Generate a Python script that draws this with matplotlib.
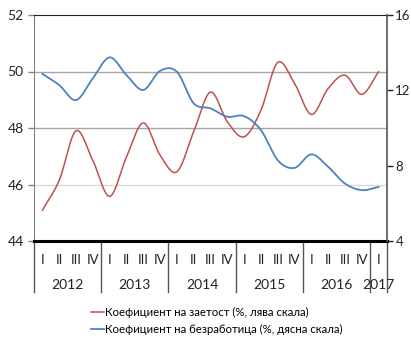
import numpy as np
import matplotlib.pyplot as plt

plt.rcParams["font.family"] = ["Lato", "DejaVu Sans"]

years = ["2012", "2013", "2014", "2015", "2016", "2017"]
quarters = ["I", "II", "III", "IV"]
employment = [45.09, 46.15, 47.90, 46.85, 45.58, 46.97, 48.18, 47.04, 46.45, 47.87,
              49.27, 48.22, 47.69, 48.63, 50.32, 49.58, 48.48, 49.40, 49.87, 49.19, 49.99]
unemployment = [12.87, 12.28, 11.48, 12.64, 13.75, 12.81, 12.02, 13.03, 12.99, 11.31,
                11.04, 10.60, 10.63, 9.89, 8.29, 7.88, 8.60, 7.94, 7.05, 6.70, 6.87]
red = "#C0504D"
blue = "#4F81BD"


def smooth(y, steps=20):
    # Catmull-Rom curve through the points, like Excel's smoothed lines
    y = np.asarray(y, float)
    x = np.arange(len(y), dtype=float)
    p = np.concatenate([[2 * y[0] - y[1]], y, [2 * y[-1] - y[-2]]])
    xs, ys = [], []
    t = np.linspace(0, 1, steps, endpoint=False)
    for i in range(len(y) - 1):
        p0, p1, p2, p3 = p[i], p[i + 1], p[i + 2], p[i + 3]
        seg = 0.5 * (2 * p1 + (-p0 + p2) * t + (2 * p0 - 5 * p1 + 4 * p2 - p3) * t ** 2
                     + (-p0 + 3 * p1 - 3 * p2 + p3) * t ** 3)
        xs.append(x[i] + t)
        ys.append(seg)
    xs.append([x[-1]])
    ys.append([y[-1]])
    return np.concatenate(xs), np.concatenate(ys)


fig = plt.figure(figsize=(4.11, 3.38), dpi=100)
ax = fig.add_axes([34 / 411, 97 / 338, 353 / 411, 226 / 338])
ax2 = ax.twinx()

n = len(employment)
ax.set_xlim(-0.5, n - 0.5)
ax.set_ylim(44, 52)
ax.set_yticks([44, 46, 48, 50, 52])
ax2.set_ylim(4, 16)
ax2.set_yticks([4, 8, 12, 16])

for v, c in [(46, "#d9d9d9"), (48, "#a6a6a6"), (50, "#a6a6a6")]:
    ax.axhline(v, color=c, lw=1.0, zorder=0)

xe, ye = smooth(employment)
xu, yu = smooth(unemployment)
ax.plot(xe, ye, color=red, lw=1.1)
ax2.plot(xu, yu, color=blue, lw=1.3)

for a in (ax, ax2):
    a.set_xticks([])
    a.tick_params(labelsize=10, length=4, width=1, colors="#222222")
ax2.tick_params(axis="y", labelsize=9.5, pad=2)
ax.spines["left"].set_color("#808080")
ax.spines["right"].set_visible(False)
ax.spines["top"].set_color("#222222")
ax.spines["bottom"].set_linewidth(2.2)
ax.spines["bottom"].set_color("black")
ax2.spines["left"].set_visible(False)
ax2.spines["top"].set_visible(False)
ax2.spines["bottom"].set_visible(False)
ax2.spines["right"].set_color("#555555")
ax2.spines["right"].set_linewidth(1.2)
ax.tick_params(axis="y", colors="#808080", labelcolor="#222222")

# two-level category axis: quarters, then years with separators
tr = ax.get_xaxis_transform()
for i in range(n):
    ax.text(i, -0.084, quarters[i % 4], transform=tr, ha="center", va="center",
            fontsize=9.5, color="#222222")
bounds = list(range(0, n, 4)) + [n]
for b in bounds:
    ax.plot([b - 0.5, b - 0.5], [0, -0.226], transform=tr, color="#555555", lw=1.0,
            clip_on=False)
for k, yr in enumerate(years):
    lo, hi = bounds[k], bounds[k + 1]
    ax.text((lo + hi - 1) / 2, -0.195, yr, transform=tr, ha="center", va="center",
            fontsize=10, color="#222222")

h1, = ax.plot([], [], color=red, lw=1.1)
h2, = ax.plot([], [], color=blue, lw=1.3)
fig.legend([h1, h2], ["Коефициент на заетост (%, лява скала)",
                      "Коефициент на безработица (%, дясна скала)"],
           loc="upper left", bbox_to_anchor=(86 / 411, 36 / 338), frameon=False,
           fontsize=8.2, handlelength=1.15, handletextpad=0.15, labelspacing=0.55,
           borderaxespad=0)

fig.savefig("out.png", dpi=100)
